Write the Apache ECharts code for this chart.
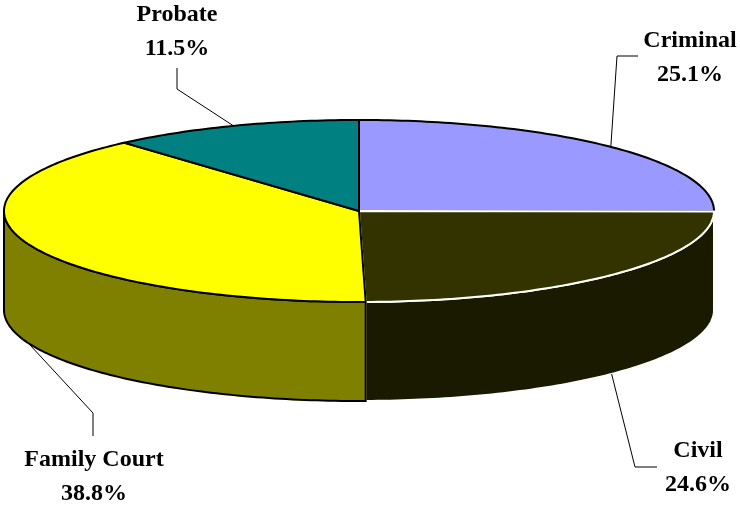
<!DOCTYPE html>
<html>
<head>
<meta charset="utf-8">
<script src="https://cdn.jsdelivr.net/npm/echarts@6/dist/echarts.min.js"></script>
<style>
html, body { margin: 0; padding: 0; background: #fff; }
#chartBox { width: 740px; height: 508px; }
</style>
</head>
<body>
<div id="chartBox"></div>
<script>
const categories = ['Criminal', 'Civil', 'Family Court', 'Probate'];
const shares = [25.1, 24.6, 38.8, 11.5];
const topColors = ['#9999FF', '#333300', '#FFFF00', '#008080'];
const sideColors = ['#6b6bb3', '#1a1a00', '#808000', '#005a5a'];
const edgeColors = ['#000', '#fff', '#000', '#000'];

// label centre and leader line start/elbow, in pixels
const labelAt = [[690, 58], [698, 468], [94, 477], [177, 32]];
const leader = [
  [[638, 56], [617, 56]],
  [[657, 467], [635, 467]],
  [[93, 436], [93, 413]],
  [[177, 68], [177, 89]]
];

// ellipse of the top face and height of the rim
const CX = 359, CY = 211, RX = 355, RY = 91, DEPTH = 99;

const total = shares.reduce((a, b) => a + b, 0);
const starts = [];
let acc = 0;
shares.forEach(v => { starts.push(acc); acc += v; });

// angle in degrees, clockwise from 12 o'clock
function pt(deg, dy) {
  const r = deg * Math.PI / 180;
  return [CX + RX * Math.sin(r), CY - RY * Math.cos(r) + (dy || 0)];
}
function arc(a0, a1, dy) {
  const pts = [];
  const n = Math.max(2, Math.ceil(Math.abs(a1 - a0)));
  for (let i = 0; i <= n; i++) pts.push(pt(a0 + (a1 - a0) * i / n, dy));
  return pts;
}

let myChart = echarts.init(document.getElementById('chartBox'));
myChart.setOption({
  animation: false,
  series: [{
    type: 'custom',
    coordinateSystem: 'none',
    data: shares.map((v, i) => ({ name: categories[i], value: v })),
    renderItem: function (params, api) {
      const i = params.dataIndex;
      const v = api.value(0);
      const a0 = starts[i] / total * 360;
      const a1 = (starts[i] + v) / total * 360;
      const children = [];
      // rim, only the front half shows
      const s0 = Math.max(a0, 90), s1 = Math.min(a1, 270);
      if (s1 - s0 > 0.5) {
        children.push({
          type: 'polygon', z2: 1,
          shape: { points: arc(s0, s1, 0).concat(arc(s1, s0, DEPTH)) },
          style: { fill: sideColors[i], stroke: edgeColors[i], lineWidth: 2 }
        });
      }
      children.push({
        type: 'polygon', z2: 5,
        shape: { points: [[CX, CY]].concat(arc(a0, a1, 0)) },
        style: { fill: topColors[i], stroke: edgeColors[i], lineWidth: 2 }
      });
      const mid = (a0 + a1) / 2;
      const front = mid > 90 && mid < 270;
      const anchor = pt(mid, front ? DEPTH : 0);
      children.push({
        type: 'polyline', z2: 8,
        shape: { points: leader[i].concat([anchor]) },
        style: { stroke: '#000', lineWidth: 1, fill: null }
      });
      children.push({
        type: 'text', z2: 9,
        x: labelAt[i][0], y: labelAt[i][1],
        style: {
          text: categories[i] + '\n' + (v / total * 100).toFixed(1) + '%',
          fill: '#000',
          fontFamily: '"Liberation Serif", serif',
          fontWeight: 'bold',
          fontSize: 24,
          lineHeight: 34,
          align: 'center',
          verticalAlign: 'middle'
        }
      });
      return { type: 'group', children: children };
    }
  }]
});
</script>
</body>
</html>
